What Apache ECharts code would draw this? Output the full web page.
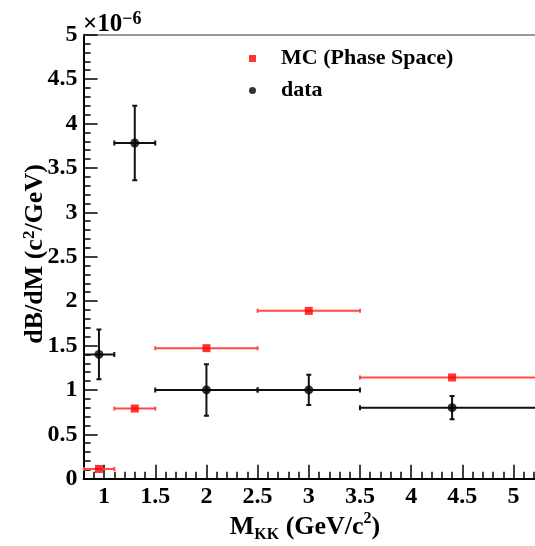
<!DOCTYPE html>
<html>
<head>
<meta charset="utf-8">
<script src="https://cdn.jsdelivr.net/npm/echarts@6/dist/echarts.min.js"></script>
<style>html,body{margin:0;padding:0;background:#fff;}#chart{width:535px;height:546px;}</style>
</head>
<body>
<div id="chart"></div>
<script>
// bins (GeV/c^2)
const binLow = [0.8, 1.1, 1.5, 2.5, 3.5];
const binHigh = [1.1, 1.5, 2.5, 3.5, 5.3];
const binCenter = [0.95, 1.3, 2.0, 3.0, 4.4];
// values in units of 1e-6
const mcValues = [0.11, 0.79, 1.47, 1.89, 1.14];
const dataValues = [1.40, 3.78, 1.00, 1.00, 0.80];
const dataErrors = [0.28, 0.42, 0.29, 0.17, 0.13];
const xTicks = [1, 1.5, 2, 2.5, 3, 3.5, 4, 4.5, 5];
const xMinorTicks = [];
for (let i = 9; i <= 52; i++) xMinorTicks.push(i / 10);

const FONT = 'Liberation Serif';
const RED = '#ff0000';
const X_MIN = 0.8, X_MAX = 5.21;

const mcErr = binCenter.map((c, i) => [c, mcValues[i], binLow[i], binHigh[i], 0]);
const dataErr = binCenter.map((c, i) => [c, dataValues[i], binLow[i], binHigh[i], dataErrors[i]]);

function errRender(color, cap) {
  return function (params, api) {
    const x = api.value(0), y = api.value(1), lo = api.value(2), hi = api.value(3), e = api.value(4);
    const pL = api.coord([lo, y]), pR = api.coord([hi, y]);
    const style = { stroke: color, lineWidth: 2 };
    const ch = [
      { type: 'line', shape: { x1: pL[0], y1: pL[1], x2: pR[0], y2: pR[1] }, style },
      { type: 'line', shape: { x1: pL[0], y1: pL[1] - cap, x2: pL[0], y2: pL[1] + cap }, style },
      { type: 'line', shape: { x1: pR[0], y1: pR[1] - cap, x2: pR[0], y2: pR[1] + cap }, style }
    ];
    if (e > 0) {
      const pT = api.coord([x, y + e]), pB = api.coord([x, y - e]);
      ch.push({ type: 'line', shape: { x1: pT[0], y1: pT[1], x2: pB[0], y2: pB[1] }, style });
      ch.push({ type: 'line', shape: { x1: pT[0] - cap, y1: pT[1], x2: pT[0] + cap, y2: pT[1] }, style });
      ch.push({ type: 'line', shape: { x1: pB[0] - cap, y1: pB[1], x2: pB[0] + cap, y2: pB[1] }, style });
    }
    return { type: 'group', children: ch };
  };
}

const chart = echarts.init(document.getElementById('chart'), null, { renderer: 'canvas' });
chart.setOption({
  animation: false,
  backgroundColor: '#fff',
  textStyle: { fontFamily: FONT },
  grid: { left: 83.6, top: 34.7, bottom: 67.3, right: 0 },
  legend: {
    orient: 'vertical', left: 244, top: 42, itemWidth: 7, itemHeight: 7, itemGap: 9,
    textStyle: { fontFamily: FONT, fontWeight: 'bold', fontSize: 22, color: '#000', lineHeight: 23, padding: [0, 0, 0, 20] },
    data: [
      { name: 'MC (Phase Space)', icon: 'rect' },
      { name: 'data', icon: 'circle' }
    ]
  },
  xAxis: [{
    type: 'value', min: X_MIN, max: X_MAX, position: 'bottom',
    splitLine: { show: false },
    axisLine: { show: true, onZero: false, lineStyle: { color: '#000', width: 2 } },
    axisTick: { show: true, inside: true, length: 14, customValues: xTicks, lineStyle: { color: '#000', width: 1.5 } },
    axisLabel: { customValues: xTicks, margin: 6, color: '#000', fontFamily: FONT, fontWeight: 'bold', fontSize: 24 }
  }, {
    type: 'value', min: X_MIN, max: X_MAX, position: 'bottom',
    splitLine: { show: false },
    axisLine: { show: false },
    axisTick: { show: true, inside: true, length: 7, customValues: xMinorTicks, lineStyle: { color: '#000', width: 1.5 } },
    axisLabel: { show: false }
  }, {
    type: 'value', min: X_MIN, max: X_MAX, position: 'top',
    splitLine: { show: false },
    axisLine: { show: true, onZero: false, lineStyle: { color: '#777', width: 1.5 } },
    axisTick: { show: false },
    axisLabel: { show: false }
  }],
  yAxis: {
    type: 'value', min: 0, max: 5, interval: 0.5,
    splitLine: { show: false },
    axisLine: { show: true, lineStyle: { color: '#000', width: 2 } },
    axisTick: { show: true, inside: true, length: 14, lineStyle: { color: '#000', width: 1.5 } },
    minorTick: { show: true, splitNumber: 5, length: 7, lineStyle: { color: '#000', width: 1.5 } },
    axisLabel: { margin: 6, color: '#000', fontFamily: FONT, fontWeight: 'bold', fontSize: 24 }
  },
  graphic: [
    {
      type: 'text', left: 83, top: 10,
      style: {
        text: '×10{sup|−6}', fill: '#000',
        font: 'bold 25px "Liberation Serif"',
        rich: { sup: { fontSize: 18, fontWeight: 'bold', fontFamily: FONT, verticalAlign: 'top', lineHeight: 30 } }
      }
    },
    {
      type: 'text', x: 35, y: 254, rotation: Math.PI / 2,
      style: {
        text: 'dB/dM (c{sup|2}/GeV)', fill: '#000', align: 'center', verticalAlign: 'middle',
        font: 'bold 26px "Liberation Serif"',
        rich: { sup: { fontSize: 17, fontWeight: 'bold', fontFamily: FONT, verticalAlign: 'top', lineHeight: 28 } }
      }
    },
    {
      type: 'text', x: 305, y: 527,
      style: {
        text: 'M{sub|KK} (GeV/c{sup|2})', fill: '#000', align: 'center', verticalAlign: 'middle',
        font: 'bold 26px "Liberation Serif"',
        rich: {
          sub: { fontSize: 16, fontWeight: 'bold', fontFamily: FONT, verticalAlign: 'bottom', lineHeight: 32 },
          sup: { fontSize: 16, fontWeight: 'bold', fontFamily: FONT, verticalAlign: 'top', lineHeight: 28 }
        }
      }
    }
  ],
  series: [
    { name: 'mcErr', type: 'custom', xAxisIndex: 0, clip: true, renderItem: errRender('#ff4a4a', 2), data: mcErr, z: 2 },
    { name: 'dataErr', type: 'custom', xAxisIndex: 0, clip: true, renderItem: errRender('#111', 2.5), data: dataErr, z: 3 },
    { name: 'MC (Phase Space)', type: 'scatter', symbol: 'rect', symbolSize: 8, clip: true, itemStyle: { color: RED }, data: binCenter.map((c, i) => [c, mcValues[i]]), z: 4 },
    { name: 'data', type: 'scatter', symbol: 'circle', symbolSize: 9, clip: true, itemStyle: { color: '#000' }, data: binCenter.map((c, i) => [c, dataValues[i]]), z: 5 }
  ]
});
</script>
</body>
</html>
